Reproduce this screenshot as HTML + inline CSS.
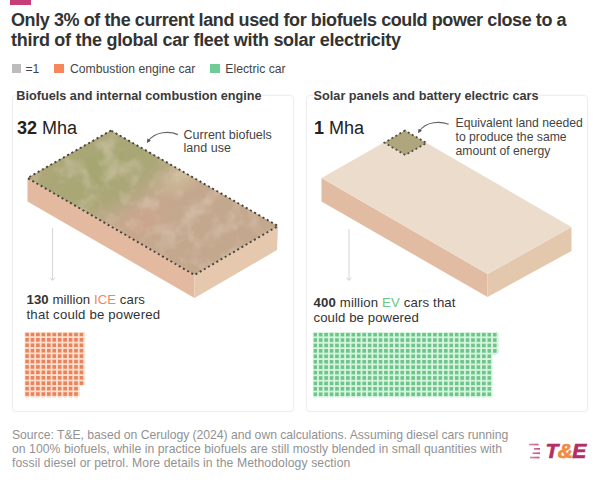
<!DOCTYPE html>
<html><head><meta charset="utf-8">
<style>
*{margin:0;padding:0;box-sizing:border-box}
html,body{width:600px;height:483px;background:#fff;overflow:hidden}
body{position:relative;font-family:"Liberation Sans",sans-serif;color:#333}
.a{position:absolute;white-space:nowrap}
.topbar{position:absolute;left:9.8px;top:0;width:21.6px;height:5px;background:#c63d78}
.title{left:11px;top:9.5px;font-size:18px;font-weight:700;line-height:20.5px;color:#333}
.leg{top:61.7px;font-size:12.2px;line-height:14px;color:#444}
.sq{position:absolute;width:9.4px;height:9.3px;top:63.9px}
.panel{position:absolute;top:95.3px;height:316.5px;border:1px solid #eeeef1;border-radius:4px;box-shadow:0 0 2px rgba(0,0,0,0.05)}
.ph{top:88.9px;font-size:12.7px;font-weight:700;color:#3a3a3a;background:#fff;line-height:14px}
.mha{top:118px;font-size:18px;color:#222;line-height:20px}
.ann{font-size:12.2px;line-height:13.9px;color:#444}
.cnt{font-size:13.2px;line-height:15px;color:#333}
.foot{left:12px;top:429.3px;font-size:12.2px;line-height:13.75px;color:#929292}
</style></head><body>
<div class="topbar"></div>
<div class="a title"><div style="letter-spacing:-0.41px">Only 3% of the current land used for biofuels could power close to a</div><div style="letter-spacing:-0.275px">third of the global car fleet with solar electricity</div></div>

<div class="sq" style="left:11.9px;background:#bdbdbd"></div>
<div class="a leg" style="left:25.5px">=1</div>
<div class="sq" style="left:54.3px;background:#f5875a"></div>
<div class="a leg" style="left:70px">Combustion engine car</div>
<div class="sq" style="left:210.2px;background:#6ecd96"></div>
<div class="a leg" style="left:225.3px">Electric car</div>

<div class="panel" style="left:11.6px;width:282.4px"></div>
<div class="panel" style="left:306px;width:281.6px"></div>

<div class="a ph" style="left:16.3px">Biofuels and internal combustion engine</div>
<div class="a ph" style="left:313.6px">Solar panels and battery electric cars</div>

<div class="a mha" style="left:17px"><b>32</b> Mha</div>
<div class="a mha" style="left:314px"><b>1</b> Mha</div>

<svg class="a" style="left:0;top:0" width="600" height="483" viewBox="0 0 600 483">
 <defs>
  <linearGradient id="gtop" x1="0" y1="0" x2="1" y2="1">
   <stop offset="0" stop-color="#8f9a5a"/>
   <stop offset="0.45" stop-color="#a89c72"/>
   <stop offset="1" stop-color="#c39e84"/>
  </linearGradient>
  <linearGradient id="gtop2" x1="0" y1="0" x2="1" y2="0.3">
   <stop offset="0" stop-color="#f0d3bd"/>
   <stop offset="1" stop-color="#efdccb"/>
  </linearGradient>
 </defs>
 <!-- left slab -->
 <defs>
  <clipPath id="ctop"><polygon points="111,130.5 27.5,178 194.5,275 278,226"/></clipPath>
  <radialGradient id="rg1" cx="0" cy="0" r="1" gradientUnits="userSpaceOnUse" gradientTransform="translate(100,167) rotate(-29.6) scale(118,56)">
   <stop offset="0" stop-color="#a4a671" stop-opacity="1"/>
   <stop offset="0.6" stop-color="#a8a775" stop-opacity="0.85"/>
   <stop offset="1" stop-color="#aca878" stop-opacity="0"/>
  </radialGradient>
  <radialGradient id="rg2" cx="0" cy="0" r="1" gradientUnits="userSpaceOnUse" gradientTransform="translate(180,178) rotate(-29.6) scale(30,18)">
   <stop offset="0" stop-color="#cdbd9b" stop-opacity="0.9"/>
   <stop offset="1" stop-color="#cdbd9b" stop-opacity="0"/>
  </radialGradient>
  <radialGradient id="rg3" cx="0" cy="0" r="1" gradientUnits="userSpaceOnUse" gradientTransform="translate(145,222) rotate(-29.6) scale(35,22)">
   <stop offset="0" stop-color="#cca48b" stop-opacity="0.9"/>
   <stop offset="1" stop-color="#cca48b" stop-opacity="0"/>
  </radialGradient>
  <filter id="noise" x="0" y="0" width="100%" height="100%" filterUnits="userSpaceOnUse">
   <feTurbulence type="fractalNoise" baseFrequency="0.05" numOctaves="3" seed="7"/>
   <feColorMatrix type="matrix" values="0 0 0 0 0.80  0 0 0 0 0.68  0 0 0 0 0.57  3 0 0 0 -1.35"/>
  </filter>
 </defs>
 <polygon points="27.5,178 194.5,275 194.5,298 27.5,201.5" fill="#e3b9a0"/>
 <polygon points="194.5,275 278,226 277,250 194.5,298" fill="#e5c8ad"/>
 <g clip-path="url(#ctop)">
  <rect x="20" y="125" width="265" height="155" fill="#c4a88e"/>
  <rect x="20" y="125" width="265" height="155" fill="url(#rg1)"/>
  <rect x="20" y="125" width="265" height="155" fill="url(#rg2)"/>
  <rect x="20" y="125" width="265" height="155" fill="url(#rg3)"/>
  <rect x="20" y="125" width="265" height="155" filter="url(#noise)" opacity="0.4"/>
 </g>
 <polygon points="111,130.5 27.5,178 194.5,275 278,226" fill="none" stroke="#48423a" stroke-width="1.9" stroke-dasharray="2 2.84"/>
 <!-- right slab -->
 <polygon points="321.5,178 487.5,274 487.5,297 321.5,201.5" fill="#e2bca2"/>
 <polygon points="487.5,274 571.5,227 571.5,251 487.5,297" fill="#e4c8ae"/>
 <polygon points="405,130.5 321.5,178 487.5,274 571.5,227" fill="#ecdccc"/>
 <polygon points="405,130.5 384.5,142.7 405.2,155 426.5,143" fill="#b0a67e"/>
 <polygon points="405,130.5 384.5,142.7 405.2,155 426.5,143" fill="none" stroke="#4e4a40" stroke-width="1.8" stroke-dasharray="1.9 2.7"/>
 <!-- annotation arrows -->
 <defs>
  <marker id="ah" viewBox="0 0 10 10" refX="6" refY="5" markerWidth="4.2" markerHeight="4.2" orient="auto" markerUnits="userSpaceOnUse">
   <path d="M0,0 L10,5 L0,10 z" fill="#555"/>
  </marker>
 </defs>
 <path d="M177.8,134.6 C170,131 155,131 147.8,141.6" fill="none" stroke="#666" stroke-width="1.2" marker-end="url(#ah)"/>
 <path d="M448.7,124.3 C441,121.5 426,120.5 419,131.8" fill="none" stroke="#666" stroke-width="1.2" marker-end="url(#ah)"/>
 <!-- down arrows -->
 <line x1="52.5" y1="228" x2="52.5" y2="280" stroke="#d8d8dc" stroke-width="1.1"/>
 <path d="M50,277.5 L52.5,280.5 L55,277.5" fill="none" stroke="#cfcfd3" stroke-width="0.9"/>
 <line x1="349" y1="229" x2="349" y2="280" stroke="#d8d8dc" stroke-width="1.1"/>
 <path d="M346.5,277.5 L349,280.5 L351.5,277.5" fill="none" stroke="#cfcfd3" stroke-width="0.9"/>
 <!-- dot grids -->
 <defs>
  <pattern id="po" x="25.2" y="332.6" width="5.44" height="5.42" patternUnits="userSpaceOnUse">
   <rect x="0" y="0" width="3.7" height="3.7" fill="#e8845a"/>
  </pattern>
  <pattern id="pg" x="313.4" y="332.8" width="5.44" height="5.42" patternUnits="userSpaceOnUse">
   <rect x="0" y="0" width="3.7" height="3.7" fill="#6cc689"/>
  </pattern>
  <filter id="bl" x="-5%" y="-5%" width="110%" height="110%"><feGaussianBlur stdDeviation="0.55"/></filter>
 </defs>
 <g filter="url(#bl)">
  <path d="M24.6,332 h60.2 v53.6 h-5.4 v11.2 h-54.8 z" fill="#fbe0d2"/>
  <path d="M312.8,332 h185.2 v21.8 h-5.4 v43.4 h-179.8 z" fill="#dcf5e2"/>
  <rect x="25.2" y="332.6" width="59.84" height="65.04" fill="url(#po)"/>
  <rect x="79.5" y="385.6" width="6" height="13" fill="#fff"/>
  <rect x="313.4" y="332.8" width="184.96" height="65.04" fill="url(#pg)"/>
  <rect x="492.9" y="354.5" width="6" height="44" fill="#fff"/>
 </g>
 <!-- logo bars -->
 <linearGradient id="lg" x1="529" y1="0" x2="540" y2="0" gradientUnits="userSpaceOnUse"><stop offset="0" stop-color="#dd7aa6"/><stop offset="1" stop-color="#b3306a"/></linearGradient>
 <g fill="url(#lg)" opacity="0.85">
  <rect x="529" y="443.7" width="9.5" height="1.7"/>
  <rect x="534" y="448" width="6" height="1.7"/>
  <rect x="532.5" y="452.4" width="7.5" height="1.7"/>
  <rect x="530" y="456.7" width="9.5" height="1.7"/>
 </g>
</svg>

<div class="a ann" style="left:183.6px;top:128.6px;font-size:12.5px;line-height:13.7px">Current biofuels<br>land use</div>
<div class="a ann" style="left:455.5px;top:117.2px">Equivalent land needed<br>to produce the same<br>amount of energy</div>

<div class="a cnt" style="left:26.5px;top:291.9px"><div style="letter-spacing:0.06px"><b>130</b> million <span style="color:#f08a5a">ICE</span> cars</div><div style="letter-spacing:0.19px">that could be powered</div></div>
<div class="a cnt" style="left:313.5px;top:294.6px"><div style="letter-spacing:0.15px"><b>400</b> million <span style="color:#66c688">EV</span> cars that</div><div style="letter-spacing:0.08px">could be powered</div></div>

<div class="a foot"><div style="letter-spacing:-0.025px">Source: T&amp;E, based on Cerulogy (2024) and own calculations. Assuming diesel cars running</div><div style="letter-spacing:0.053px">on 100% biofuels, while in practice biofuels are still mostly blended in small quantities with</div><div style="letter-spacing:0.09px">fossil diesel or petrol. More details in the Methodology section</div></div>

<div class="a" style="left:545.5px;top:439px;font-size:21px;font-weight:700;font-style:italic;color:#b42d66;letter-spacing:-0.6px;line-height:24px;-webkit-text-stroke:0.7px #b42d66">T<span style="color:#f08a45;-webkit-text-stroke:0.7px #f08a45">&amp;</span>E</div>
</body></html>
